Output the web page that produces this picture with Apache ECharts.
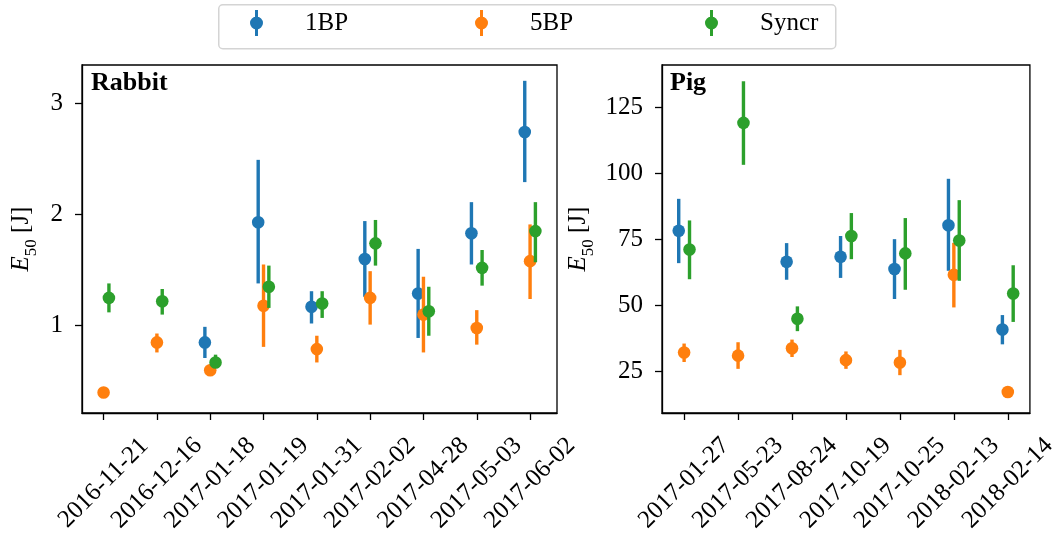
<!DOCTYPE html>
<html>
<head>
<meta charset="utf-8">
<script src="https://cdn.jsdelivr.net/npm/echarts@6/dist/echarts.min.js"></script>
<style>
html,body{margin:0;padding:0;background:#fff;}
#chart{width:1060px;height:538px;}
</style>
</head>
<body>
<div id="chart"></div>
<script>
// ---------- data ----------
const seriesNames = ['1BP', '5BP', 'Syncr'];
const colors = ['#1f77b4', '#ff7f0e', '#2ca02c'];

const rabbitDates = ['2016-11-21','2016-12-16','2017-01-18','2017-01-19','2017-01-31','2017-02-02','2017-04-28','2017-05-03','2017-06-02'];
const rabbit1BP      = [null, null, 0.85, 1.93, 1.17, 1.60, 1.29, 1.83, 2.74];
const rabbit1BPLow   = [null, null, 0.71, 1.38, 1.02, 1.26, 0.89, 1.55, 2.29];
const rabbit1BPHigh  = [null, null, 0.99, 2.49, 1.31, 1.94, 1.69, 2.11, 3.20];
const rabbit5BP      = [0.40, 0.85, 0.60, 1.18, 0.79, 1.25, 1.10, 0.98, 1.58];
const rabbit5BPLow   = [0.40, 0.76, 0.56, 0.81, 0.67, 1.01, 0.76, 0.83, 1.24];
const rabbit5BPHigh  = [0.40, 0.93, 0.65, 1.55, 0.91, 1.49, 1.44, 1.14, 1.91];
const rabbitSyncr    = [1.25, 1.22, 0.67, 1.35, 1.20, 1.74, 1.13, 1.52, 1.85];
const rabbitSyncrLow = [1.12, 1.10, 0.62, 1.16, 1.07, 1.54, 0.91, 1.36, 1.57];
const rabbitSyncrHigh= [1.38, 1.33, 0.74, 1.54, 1.31, 1.95, 1.35, 1.68, 2.11];
const rabbitYTicks = [1, 2, 3];

const pigDates = ['2017-01-27','2017-05-23','2017-08-24','2017-10-19','2017-10-25','2018-02-13','2018-02-14'];
const pig1BP       = [78.2, null, 66.4, 68.3, 63.7, 80.3, 40.7];
const pig1BPLow    = [65.9, null, 59.6, 60.3, 52.3, 63.0, 35.1];
const pig1BPHigh   = [90.3, null, 73.5, 76.2, 75.0, 97.9, 46.2];
const pig5BP       = [32.0, 30.8, 33.6, 29.1, 28.2, 61.5, 17.0];
const pig5BPLow    = [28.4, 25.8, 30.3, 25.8, 23.4, 49.1, 17.0];
const pig5BPHigh   = [35.4, 35.9, 36.9, 32.4, 33.0, 73.6, 17.0];
const pigSyncr     = [71.1, 119.1, 44.8, 76.2, 69.6, 74.5, 54.4];
const pigSyncrLow  = [59.8, 103.2, 40.1, 67.4, 55.8, 59.2, 43.6];
const pigSyncrHigh = [82.1, 134.9, 49.5, 84.9, 83.0, 89.8, 65.1];
const pigYTicks = [25, 50, 75, 100, 125];

// ---------- helpers ----------
const FONT = '"Liberation Serif", "DejaVu Serif", serif';
const DODGE = [-0.1, 0, 0.1];

function buildData(vals, lows, highs, k) {
  const out = [];
  vals.forEach((v, i) => {
    if (v === null || v === undefined) return;
    out.push([i + DODGE[k], v, lows[i], highs[i]]);
  });
  return out;
}

function errSeries(name, k, data, axisIdx) {
  const color = colors[k];
  return {
    type: 'custom',
    name: name,
    xAxisIndex: axisIdx,
    yAxisIndex: axisIdx,
    itemStyle: { color: color },
    encode: { x: 0, y: 1 },
    data: data,
    renderItem: function (params, api) {
      const x = api.value(0), y = api.value(1), lo = api.value(2), hi = api.value(3);
      const p = api.coord([x, y]);
      const pl = api.coord([x, lo]);
      const ph = api.coord([x, hi]);
      return {
        type: 'group',
        children: [
          { type: 'line', shape: { x1: p[0], y1: pl[1], x2: p[0], y2: ph[1] },
            style: { stroke: color, lineWidth: 3.4 } },
          { type: 'circle', shape: { cx: p[0], cy: p[1], r: 6.3 },
            style: { fill: color } }
        ]
      };
    }
  };
}

function xAxisFor(gridIdx, dates, min, max) {
  const idx = dates.map((d, i) => i);
  return {
    type: 'value', gridIndex: gridIdx, min: min, max: max,
    splitLine: { show: false },
    axisLine: { show: true, onZero: false, lineStyle: { color: '#000', width: 1.3 } },
    axisTick: { show: true, length: 7, customValues: idx, lineStyle: { color: '#000', width: 1.3 } },
    axisLabel: {
      customValues: idx, rotate: 45, align: 'center', verticalAlign: 'middle',
      margin: 70, color: '#000', fontFamily: FONT, fontSize: 25,
      formatter: v => dates[Math.round(v)]
    }
  };
}

function yAxisFor(gridIdx, ticks, min, max, nameGap) {
  return {
    type: 'value', gridIndex: gridIdx, min: min, max: max,
    splitLine: { show: false },
    axisLine: { show: true, onZero: false, lineStyle: { color: '#000', width: 1.3 } },
    axisTick: { show: true, length: 7, customValues: ticks, lineStyle: { color: '#000', width: 1.3 } },
    axisLabel: { customValues: ticks, margin: 19, color: '#000', fontFamily: FONT, fontSize: 25 },
    name: '{e|E}{s|50}{t| [J]}',
    nameLocation: 'middle',
    nameGap: nameGap,
    nameRotate: 90,
    nameTextStyle: {
      color: '#000', fontFamily: FONT,
      rich: {
        e: { fontSize: 25, fontStyle: 'italic', fontFamily: FONT, color: '#000', verticalAlign: 'bottom', lineHeight: 34, padding: [0, 0, 6, 0] },
        s: { fontSize: 17, fontFamily: FONT, color: '#000', verticalAlign: 'bottom', lineHeight: 34, padding: [0, 0, 0, 0] },
        t: { fontSize: 25, fontFamily: FONT, color: '#000', verticalAlign: 'bottom', lineHeight: 34, padding: [0, 0, 6, 0] }
      }
    }
  };
}

const legendIcon = 'path://M5,0 L8,0 L8,26 L5,26 Z M0,13 A6.5,6.5 0 1 1 13,13 A6.5,6.5 0 1 1 0,13 Z';
const legendX = [250, 475, 705];

const series = [];
series.push(errSeries('1BP', 0, buildData(rabbit1BP, rabbit1BPLow, rabbit1BPHigh, 0), 0));
series.push(errSeries('5BP', 1, buildData(rabbit5BP, rabbit5BPLow, rabbit5BPHigh, 1), 0));
series.push(errSeries('Syncr', 2, buildData(rabbitSyncr, rabbitSyncrLow, rabbitSyncrHigh, 2), 0));
series.push(errSeries('1BP', 0, buildData(pig1BP, pig1BPLow, pig1BPHigh, 0), 1));
series.push(errSeries('5BP', 1, buildData(pig5BP, pig5BPLow, pig5BPHigh, 1), 1));
series.push(errSeries('Syncr', 2, buildData(pigSyncr, pigSyncrLow, pigSyncrHigh, 2), 1));

const option = {
  animation: false,
  backgroundColor: '#fff',
  graphic: [{
    type: 'rect', left: 218, top: 4, z: -1,
    shape: { width: 617, height: 44, r: 4 },
    style: { fill: '#fff', stroke: '#d4d4d4', lineWidth: 1.5 }
  }],
  title: [
    { text: 'Rabbit', left: 91, top: 70, padding: 0,
      textStyle: { fontFamily: FONT, fontSize: 26, fontWeight: 'bold', color: '#000' } },
    { text: 'Pig', left: 670, top: 70, padding: 0,
      textStyle: { fontFamily: FONT, fontSize: 26, fontWeight: 'bold', color: '#000' } }
  ],
  legend: seriesNames.map((n, k) => ({
    data: [n], left: legendX[k], top: 10, padding: 0,
    icon: legendIcon, itemWidth: 13, itemHeight: 26,
    selectedMode: false,
    textStyle: { fontFamily: FONT, fontSize: 25, color: '#000', padding: [0, 0, 0, 37] }
  })),
  grid: [
    { left: 82, top: 65, width: 475, height: 348, show: true, borderColor: '#000', borderWidth: 1.3, backgroundColor: 'transparent' },
    { left: 662, top: 65, width: 370, height: 348, show: true, borderColor: '#000', borderWidth: 1.3, backgroundColor: 'transparent' }
  ],
  xAxis: [
    xAxisFor(0, rabbitDates, -0.405, 8.505),
    xAxisFor(1, pigDates, -0.41, 6.41)
  ],
  yAxis: [
    yAxisFor(0, rabbitYTicks, 0.216, 3.342, 42),
    yAxisFor(1, pigYTicks, 9.05, 141.07, 65)
  ],
  series: series
};

const chart = echarts.init(document.getElementById('chart'), null, { renderer: 'canvas' });
chart.setOption(option);
</script>
</body>
</html>
